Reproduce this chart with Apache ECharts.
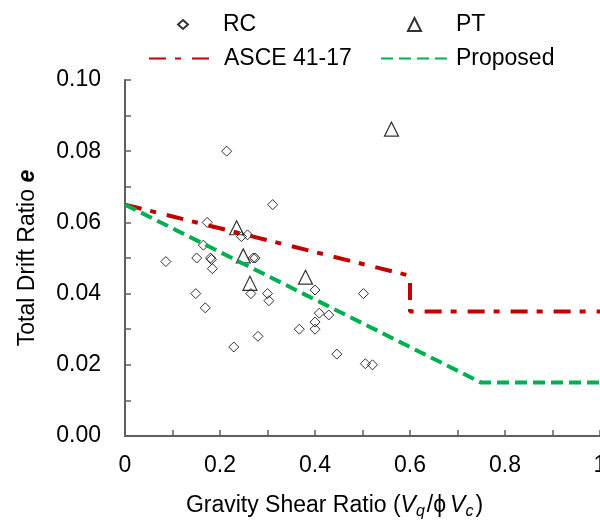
<!DOCTYPE html>
<html>
<head>
<meta charset="utf-8">
<script src="https://cdn.jsdelivr.net/npm/echarts@6/dist/echarts.min.js"></script>
<style>
html,body{margin:0;padding:0;background:#fff;}
#chart{width:600px;height:522px;}
</style>
</head>
<body>
<div id="chart"></div>
<script>
// RC specimens: [gravity shear ratio, total drift ratio]
var rcData = [
  [0.214,0.080],[0.311,0.065],[0.173,0.060],[0.245,0.056],[0.258,0.0565],
  [0.165,0.0536],[0.270,0.050],[0.274,0.050],[0.086,0.049],[0.151,0.050],
  [0.180,0.050],[0.182,0.0496],[0.184,0.047],[0.149,0.040],[0.265,0.040],
  [0.300,0.040],[0.303,0.038],[0.400,0.041],[0.502,0.040],[0.169,0.036],
  [0.409,0.0345],[0.429,0.034],[0.400,0.032],[0.367,0.030],[0.400,0.030],
  [0.280,0.028],[0.229,0.025],[0.446,0.023],[0.506,0.0203],[0.521,0.020]
];
// PT specimens
var ptData = [
  [0.235,0.0585],[0.249,0.0506],[0.263,0.0429],[0.380,0.0446],[0.561,0.0862]
];
// ASCE 41-17 limit
var asceLine = [[0,0.065],[0.6,0.045],[0.6,0.035],[1,0.035]];
// Proposed limit
var proposedLine = [[0,0.065],[0.75,0.015],[1,0.015]];

var FONT = '"Liberation Sans", Arial, sans-serif';
var chart = echarts.init(document.getElementById('chart'), null, {renderer:'canvas'});

function leg(name, left, top, w, h, pad){
  return {
    data:[name], left:left, top:top, padding:0, orient:'horizontal',
    itemWidth:w, itemHeight:h, selectedMode:false,
    itemStyle:{color:'rgba(0,0,0,0)'},
    textStyle:{fontFamily:FONT, fontSize:23, color:'#000', padding:pad}
  };
}

chart.setOption({
  animation:false,
  backgroundColor:'#fff',
  legend:[
    leg('RC', 177, 13, 10, 9, [0,0,0,30]),
    leg('PT', 407, 13, 13, 13, [0,0,0,30]),
    leg('ASCE 41-17', 148, 47, 60, 10, [0,0,7,10]),
    leg('Proposed', 380, 47, 66, 10, [0,0,7,4])
  ],
  grid:{left:125, top:80, right:0, bottom:86, containLabel:false, outerBoundsMode:'none'},
  xAxis:{
    type:'value', min:0, max:1, interval:0.2,
    name:'Gravity Shear Ratio ({i|V}{s|q}/{p|ϕ}{i|V}{s|c})',
    nameLocation:'middle', nameGap:56,
    nameTextStyle:{fontFamily:FONT, fontSize:23, color:'#000', padding:[0,56,0,0],
      rich:{
        i:{fontFamily:FONT, fontSize:23, fontStyle:'italic', color:'#000'},
        p:{fontFamily:FONT, fontSize:23, color:'#000', padding:[0,4,0,0]},
        s:{fontFamily:FONT, fontSize:16, fontStyle:'italic', color:'#000', padding:[12,2,0,0]}
      }},
    axisLine:{show:true, onZero:false, lineStyle:{color:'#5f5f5f', width:2}},
    axisTick:{show:true, inside:true, length:6, lineStyle:{color:'#5f5f5f', width:1.5}},
    minorTick:{show:true, splitNumber:2, length:6, lineStyle:{color:'#5f5f5f', width:1.5}},
    axisLabel:{fontFamily:FONT, fontSize:23, color:'#000', margin:18},
    splitLine:{show:false}
  },
  yAxis:{
    type:'value', min:0, max:0.10, interval:0.02,
    name:'Total Drift Ratio {b|e}',
    nameLocation:'middle', nameGap:86, nameRotate:90,
    nameTextStyle:{fontFamily:FONT, fontSize:23, color:'#000',
      rich:{b:{fontFamily:FONT, fontSize:23, fontWeight:'bold', fontStyle:'italic', color:'#000'}}},
    axisLine:{show:true, onZero:false, lineStyle:{color:'#5f5f5f', width:2}},
    axisTick:{show:true, inside:true, length:6, lineStyle:{color:'#5f5f5f', width:1.5}},
    minorTick:{show:true, splitNumber:2, length:6, lineStyle:{color:'#5f5f5f', width:1.5}},
    axisLabel:{fontFamily:FONT, fontSize:23, color:'#000', margin:24,
      formatter:function(v){return v.toFixed(2);}},
    splitLine:{show:false}
  },
  series:[
    {
      name:'RC', type:'scatter', data:rcData, symbol:'diamond', symbolSize:10,
      itemStyle:{color:'rgba(0,0,0,0)', borderColor:'#000', borderWidth:1}
    },
    {
      name:'PT', type:'scatter', data:ptData, symbol:'triangle', symbolSize:14,
      itemStyle:{color:'rgba(0,0,0,0)', borderColor:'#000', borderWidth:1.2}
    },
    {
      name:'ASCE 41-17', type:'line', data:asceLine, symbol:'none',
      itemStyle:{color:'#C00000'},
      lineStyle:{color:'#C00000', width:4, type:[17,9,6,11], cap:'butt'}
    },
    {
      name:'Proposed', type:'line', data:proposedLine, symbol:'none',
      itemStyle:{color:'#00B050'},
      lineStyle:{color:'#00B050', width:4, type:[12,6], cap:'butt'}
    }
  ]
});
</script>
</body>
</html>
